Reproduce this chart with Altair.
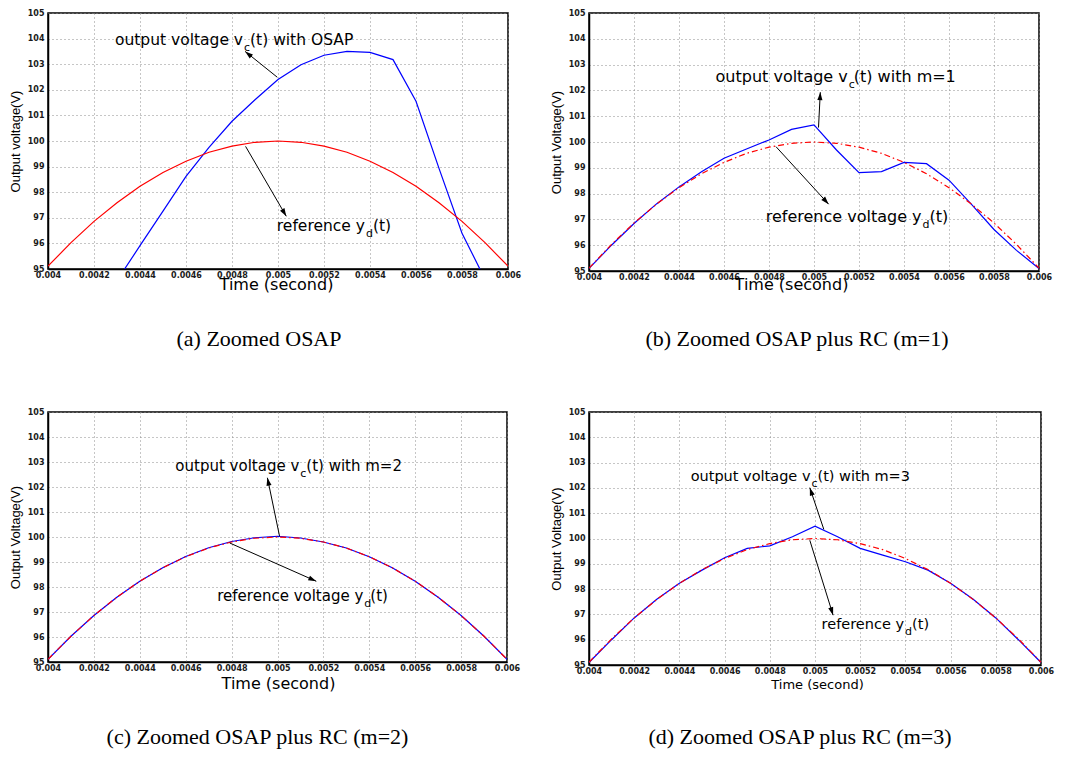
import math
import altair as alt
import pandas as pd

# ---------------- data ----------------
time_s = [0.0040, 0.0041, 0.0042, 0.0043, 0.0044, 0.0045, 0.0046, 0.0047, 0.0048, 0.0049,
          0.0050, 0.0051, 0.0052, 0.0053, 0.0054, 0.0055, 0.0056, 0.0057, 0.0058, 0.0059, 0.0060]

reference_yd = [95.11, 96.03, 96.86, 97.59, 98.23, 98.77, 99.21, 99.56, 99.80, 99.95,
                100.00, 99.95, 99.80, 99.56, 99.21, 98.77, 98.23, 97.59, 96.86, 96.03, 95.11]

vc_osap = [None, None, None, 94.55, 95.91, 97.26, 98.62, 99.75, 100.77, 101.61,
           102.40, 102.98, 103.35, 103.50, 103.46, 103.18, 101.55, 98.93, 96.40, 94.60, None]

vc_m1 = [95.10, 96.00, 96.84, 97.60, 98.26, 98.85, 99.37, 99.73, 100.08, 100.49,
         100.66, 99.69, 98.81, 98.85, 99.21, 99.16, 98.52, 97.58, 96.61, 95.80, 95.10]

vc_m2 = [95.11, 96.03, 96.86, 97.59, 98.23, 98.77, 99.22, 99.57, 99.82, 99.97,
         100.03, 99.96, 99.80, 99.56, 99.21, 98.77, 98.23, 97.59, 96.86, 96.03, 95.11]

vc_m3 = [95.10, 96.00, 96.86, 97.60, 98.23, 98.75, 99.24, 99.61, 99.71, 100.07,
         100.49, 100.07, 99.61, 99.34, 99.08, 98.75, 98.23, 97.60, 96.86, 96.00, 95.10]

x_ticks = [0.004, 0.0042, 0.0044, 0.0046, 0.0048, 0.005, 0.0052, 0.0054, 0.0056, 0.0058, 0.006]
y_ticks = [95, 96, 97, 98, 99, 100, 101, 102, 103, 104, 105]

captions = ["(a) Zoomed OSAP", "(b) Zoomed OSAP plus RC (m=1)",
            "(c) Zoomed OSAP plus RC (m=2)", "(d) Zoomed OSAP plus RC (m=3)"]
y_titles = ["Output voltage(V)", "Output Voltage(V)", "Output Voltage(V)", "Output Voltage(V)"]
x_title = "Time (second)"

# annotation labels: (main text, subscript, tail text, t anchor, value anchor, tail dx)
labels_a = [("output voltage v", "c", "(t) with OSAP", 0.004848, 103.74, 7),
            ("reference y", "d", "(t)", 0.005378, 96.50, 8)]
labels_b = [("output voltage v", "c", "(t) with m=1", 0.00515, 102.32, 6),
            ("reference voltage y", "d", "(t)", 0.005478, 96.88, 8)]
labels_c = [("output voltage v", "c", "(t) with m=2", 0.005095, 102.64, 7),
            ("reference voltage y", "d", "(t)", 0.005374, 97.44, 7)]
labels_d = [("output voltage v", "c", "(t) with m=3", 0.00498, 102.29, 7),
            ("reference y", "d", "(t)", 0.005394, 96.41, 8)]

# arrows: (tail t, tail v, head t, head v)
arrows_a = [(0.004997, 102.49, 0.004857, 103.50), (0.004859, 99.79, 0.005036, 97.06)]
arrows_b = [(0.00502, 100.56, 0.005028, 101.93), (0.004831, 99.82, 0.005065, 97.59)]
arrows_c = [(0.005009, 100.03, 0.004956, 102.37), (0.004792, 99.76, 0.005169, 98.23)]
arrows_d = [(0.005039, 100.36, 0.004977, 102.01), (0.004977, 99.93, 0.005080, 96.97)]

ARROW_PATH = "M0,0L-0.32,1L0.32,1Z"
BLUE = "#0000ff"
RED = "#ff0000"


def panel(vc, ref_dash, W, H, caption, ytitle, tx, ty, tsize, labels, arrows,
          ann_size, cap_dx, cap_offset):
    x_enc = alt.X("t:Q",
                  scale=alt.Scale(domain=[0.004, 0.006], nice=False, zero=False),
                  axis=alt.Axis(values=x_ticks, format="~g", title=x_title,
                                titleX=tx, titleY=ty, titleFontSize=tsize,
                                titleFont="DejaVu Sans", titleAlign="center",
                                titleBaseline="middle", labelFlush=False,
                                labelOverlap=False))
    y_enc = alt.Y("v:Q",
                  scale=alt.Scale(domain=[95, 105], nice=False, zero=False),
                  axis=alt.Axis(values=y_ticks, format="d", title=ytitle,
                                titleX=-33, titleY=H / 2, titleFont="Liberation Sans",
                                titleFontSize=13, titleAlign="center",
                                titleBaseline="middle", titleAngle=270,
                                labelFlush=False, labelOverlap=False))

    df_vc = pd.DataFrame({"t": time_s, "v": vc})
    df_ref = pd.DataFrame({"t": time_s, "v": reference_yd})

    vc_line = alt.Chart(df_vc).mark_line(color=BLUE, strokeWidth=1.2, clip=True).encode(
        x=x_enc, y=y_enc)
    ref_kw = dict(color=RED, strokeWidth=1.2, clip=True)
    if ref_dash:
        ref_kw["strokeDash"] = ref_dash
    ref_line = alt.Chart(df_ref).mark_line(**ref_kw).encode(x=x_enc, y=y_enc)

    layers = [vc_line, ref_line]

    # arrows
    rows = []
    heads = []
    for (t1, v1, t2, v2) in arrows:
        dxp = (t2 - t1) / 0.002 * W
        dyp = (v2 - v1) / 10.0 * H
        ang = math.degrees(math.atan2(dxp, dyp)) % 360
        rows.append({"t": t1, "v": v1, "t2": t2, "v2": v2})
        heads.append({"t": t2, "v": v2, "ang": ang})
    df_ar = pd.DataFrame(rows)
    df_hd = pd.DataFrame(heads)
    layers.append(alt.Chart(df_ar).mark_rule(color="black", strokeWidth=1).encode(
        x=x_enc, y=y_enc, x2="t2:Q", y2="v2:Q"))
    layers.append(alt.Chart(df_hd).mark_point(shape=ARROW_PATH, filled=True, size=256,
                                              color="black", opacity=1, strokeWidth=0).encode(
        x=x_enc, y=y_enc, angle=alt.Angle("ang:Q", scale=None)))

    # labels with subscripts
    for (main, sub, tail, t, v, tdx) in labels:
        d = pd.DataFrame({"t": [t], "v": [v], "main": [main], "sub": [sub], "tail": [tail]})
        layers.append(alt.Chart(d).mark_text(align="right", baseline="alphabetic",
                                             font="DejaVu Sans", fontSize=ann_size,
                                             color="black").encode(
            x=x_enc, y=y_enc, text="main:N"))
        layers.append(alt.Chart(d).mark_text(align="left", baseline="alphabetic",
                                             font="DejaVu Sans", fontSize=11, dx=1, dy=6,
                                             color="black").encode(
            x=x_enc, y=y_enc, text="sub:N"))
        layers.append(alt.Chart(d).mark_text(align="left", baseline="alphabetic",
                                             font="DejaVu Sans", fontSize=ann_size, dx=tdx,
                                             color="black").encode(
            x=x_enc, y=y_enc, text="tail:N"))

    return alt.layer(*layers).properties(
        width=W, height=H,
        title=alt.TitleParams(text=caption, orient="bottom", anchor="middle", frame="group",
                              offset=cap_offset, dx=cap_dx, font="Liberation Serif",
                              fontSize=22, fontWeight="normal", color="black"))


DASHDOT = [6, 3, 1.5, 3]

pa = panel(vc_osap, None, 460, 256, captions[0], y_titles[0], 228, 15, 16,
           labels_a, arrows_a, 15.5, -19, 37)
pb = panel(vc_m1, DASHDOT, 450, 258, captions[1], y_titles[1], 202, 13, 16,
           labels_b, arrows_b, 16, -17, 37)
pc = panel(vc_m2, DASHDOT, 459, 250, captions[2], y_titles[2], 230, 21, 16,
           labels_c, arrows_c, 15, -20, 36)
pd_ = panel(vc_m3, DASHDOT, 452, 253, captions[3], y_titles[3], 228, 19, 13,
            labels_d, arrows_d, 14.5, -15, 36)

chart = alt.concat(pa, pb, pc, pd_, columns=2, bounds="flush",
                   spacing=alt.RowColnumber(row=141, column=81)).properties(
    padding=0
).configure_axis(
    grid=True, gridColor="#8c8c8c", gridDash=[1, 3], gridWidth=1, gridOpacity=1,
    tickSize=0, domainColor="black", domainWidth=1.5,
    labelFont="DejaVu Sans", labelFontSize=8, labelFontWeight="bold", labelColor="#1a1a1a",
    titleColor="black", titleFontWeight="normal"
).configure_axisX(labelPadding=2).configure_axisY(labelPadding=4).configure_view(
    stroke="black", strokeWidth=1.5
)

chart.save("out.html", embed_options={"renderer": "svg", "actions": False})
